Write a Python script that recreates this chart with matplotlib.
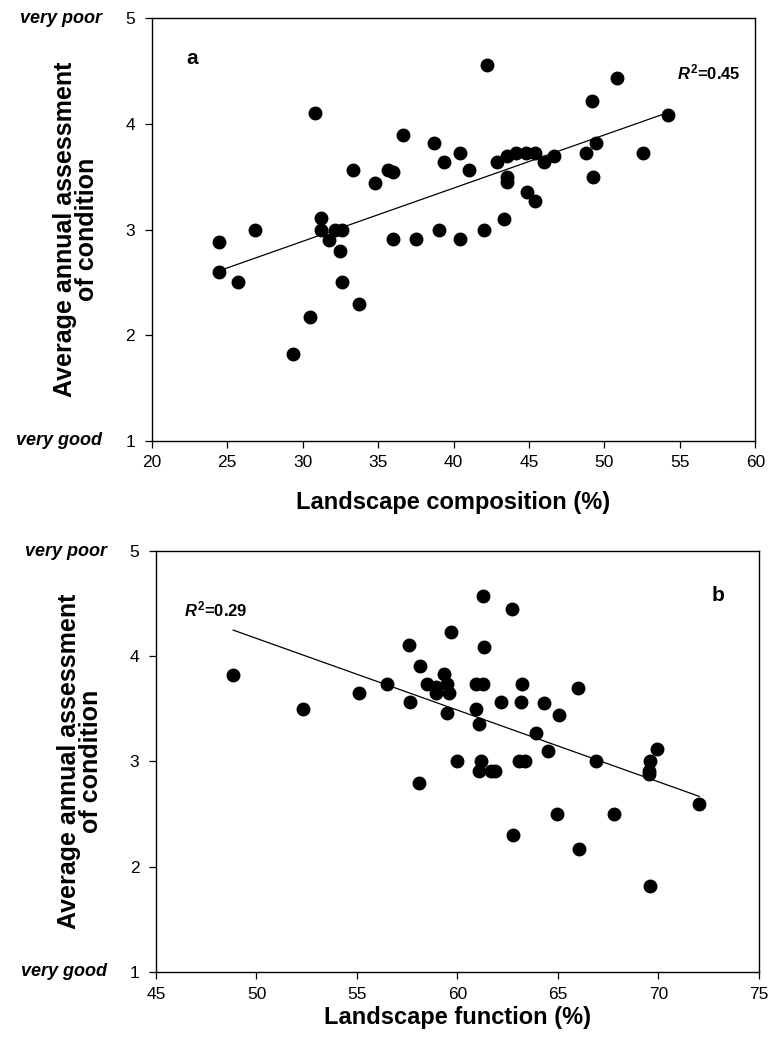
import numpy as np
import matplotlib
matplotlib.use('Agg')
import matplotlib.pyplot as plt

plt.rcParams['font.family'] = ['Liberation Sans', 'DejaVu Sans']
plt.rcParams['mathtext.fontset'] = 'custom'
plt.rcParams['mathtext.rm'] = 'Liberation Sans:bold'
plt.rcParams['mathtext.it'] = 'Liberation Sans:bold:italic'

# panel a: landscape composition (%) vs average condition
composition = [29.36, 30.46, 33.76, 25.75, 32.59, 24.47, 32.50, 24.47, 31.73, 35.99,
               37.50, 40.42, 26.86, 31.24, 32.12, 32.61, 39.07, 42.00, 43.34, 31.24,
               45.42, 44.89, 34.82, 43.56, 43.56, 49.24, 33.32, 35.66, 35.99, 41.04,
               39.38, 42.90, 46.02, 43.56, 46.68, 40.42, 44.16, 44.80, 45.42, 48.76,
               52.54, 38.72, 49.43, 36.64, 30.80, 54.23, 49.16, 50.82, 42.23]
cond_a = [1.82, 2.17, 2.30, 2.50, 2.50, 2.60, 2.80, 2.88, 2.90, 2.91,
          2.91, 2.91, 3.00, 3.00, 3.00, 3.00, 3.00, 3.00, 3.10, 3.11,
          3.27, 3.36, 3.44, 3.45, 3.50, 3.50, 3.56, 3.56, 3.55, 3.56,
          3.64, 3.64, 3.64, 3.70, 3.70, 3.73, 3.73, 3.73, 3.73, 3.73,
          3.73, 3.82, 3.82, 3.90, 4.10, 4.09, 4.22, 4.44, 4.56]

# panel b: landscape function (%) vs average condition
function = [69.58, 66.06, 62.78, 64.97, 67.79, 72.03, 58.08, 69.53, 61.08, 61.67,
            61.85, 69.53, 60.00, 61.19, 63.07, 63.37, 66.88, 69.58, 64.49, 69.91,
            63.91, 61.08, 65.07, 59.50, 52.32, 60.93, 57.65, 62.17, 63.17, 64.32,
            55.11, 58.94, 59.60, 58.91, 65.98, 56.47, 58.48, 59.50, 60.93, 61.29,
            63.20, 48.84, 59.35, 58.11, 57.61, 61.34, 59.69, 62.72, 61.26]
cond_b = [1.82, 2.17, 2.30, 2.50, 2.50, 2.60, 2.80, 2.88, 2.91, 2.91,
          2.91, 2.91, 3.00, 3.00, 3.00, 3.00, 3.00, 3.00, 3.10, 3.12,
          3.27, 3.36, 3.44, 3.46, 3.50, 3.50, 3.57, 3.57, 3.57, 3.56,
          3.65, 3.65, 3.65, 3.71, 3.70, 3.74, 3.74, 3.74, 3.74, 3.74,
          3.74, 3.82, 3.83, 3.91, 4.11, 4.09, 4.23, 4.45, 4.57]

ylab = 'Average annual assessment\nof condition'

fig = plt.figure(figsize=(7.7, 10.42), dpi=100)
ax1 = fig.add_axes([0.197, 0.577, 0.784, 0.4053])
ax2 = fig.add_axes([0.2026, 0.0672, 0.7831, 0.404])


def draw(ax, x, y, xlim, xticks, xlabel, xpad, letter, letter_xy, r2, r2_xy):
    ax.plot(x, y, 'o', color='black', markersize=9, zorder=3)
    # least squares line over the data range
    k, b = np.polyfit(x, y, 1)
    xs = np.array([min(x), max(x)])
    ax.plot(xs, k * xs + b, color='black', lw=0.9)
    ax.set_xlim(xlim)
    ax.set_ylim(1, 5)
    ax.set_xticks(xticks)
    ax.set_yticks([1, 2, 3, 4, 5])
    ax.tick_params(direction='out', length=5, width=0.9, labelsize=12.5)
    ax.tick_params(axis='x', pad=5.5)
    ax.tick_params(axis='y', pad=7)
    for s in ax.spines.values():
        s.set_linewidth(1.0)
    ax.set_xlabel(xlabel, fontsize=17, fontweight='bold', labelpad=xpad)
    ax.text(-0.126, 0.5, ylab, transform=ax.transAxes, rotation=90,
            ha='center', va='center', fontsize=18, fontweight='bold',
            multialignment='center', linespacing=0.9)
    ax.text(-0.082, 5, 'very poor', transform=ax.get_yaxis_transform(),
            ha='right', va='center', fontsize=13, fontweight='bold', style='italic')
    ax.text(-0.082, 1, 'very good', transform=ax.get_yaxis_transform(),
            ha='right', va='center', fontsize=13, fontweight='bold', style='italic')
    ax.text(letter_xy[0], letter_xy[1], letter, fontsize=15, fontweight='bold',
            ha='center', va='center')
    ax.text(r2_xy[0], r2_xy[1], r'$R^2$=' + r2, fontsize=12, fontweight='bold',
            ha='left', va='center')


draw(ax1, composition, cond_a, (20, 60), range(20, 61, 5),
     'Landscape composition (%)', 15, 'a', (22.7, 4.62), '0.45', (54.8, 4.49))
draw(ax2, function, cond_b, (45, 75), range(45, 76, 5),
     'Landscape function (%)', 3, 'b', (72.96, 4.58), '0.29', (46.37, 4.44))

fig.savefig('out.png', dpi=100)
